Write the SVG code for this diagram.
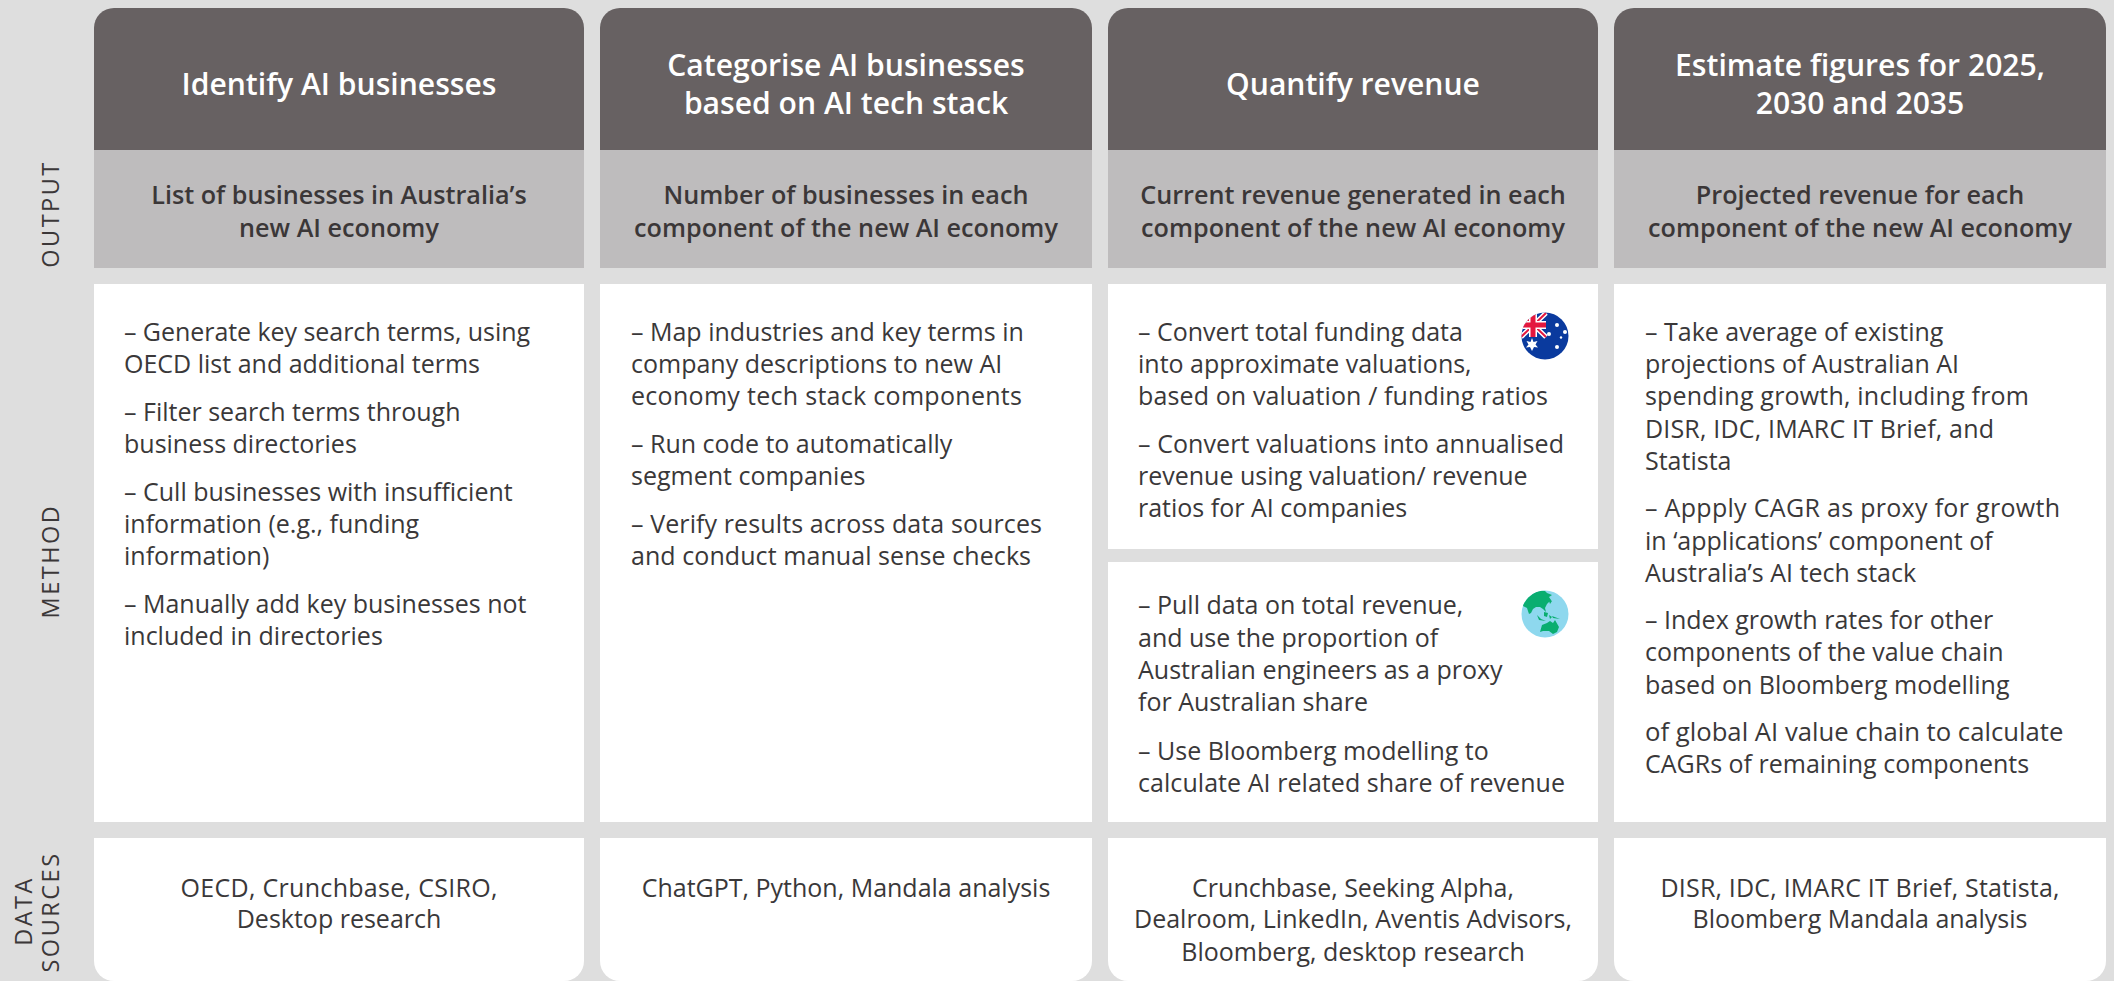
<svg xmlns="http://www.w3.org/2000/svg" width="2114" height="981" viewBox="0 0 2114 981">
<style>
text{font-family:"Open Sans","Noto Sans","Liberation Sans",sans-serif}
.h{fill:#fff;font-size:30.100px;font-weight:600;text-anchor:middle}
.s{fill:#3b3738;font-size:25.200px;font-weight:600;text-anchor:middle}
.m{fill:#3a3839;font-size:25px}
.d{fill:#3a3839;font-size:25px;text-anchor:middle}
.l{fill:#3b3738;font-size:23.500px;font-weight:500;letter-spacing:2.500px;text-anchor:middle}
.hb{fill:#676162}.sb{fill:#bebcbd}.wb{fill:#fff}
</style>
<defs>
<clipPath id="c1"><circle cx="1545" cy="336" r="23.500"/></clipPath>
<clipPath id="c2"><circle cx="1545" cy="614" r="23.500"/></clipPath>
</defs>
<rect width="2114" height="981" fill="#dedede"/>
<g id="labels">
<text class="l" transform="translate(59 214) rotate(-90)">OUTPUT</text>
<text class="l" transform="translate(59 561) rotate(-90)">METHOD</text>
<text class="l" transform="translate(32 911) rotate(-90)">DATA</text>
<text class="l" transform="translate(59 912) rotate(-90)">SOURCES</text>
</g>
<g id="col1">
<path class="hb" d="M94 150V28a20 20 0 0 1 20-20H564a20 20 0 0 1 20 20V150Z"/>
<text class="h" x="339" y="95">Identify AI businesses</text>
<rect class="sb" x="94" y="150" width="490" height="118"/>
<text class="s" x="339" y="204">List of businesses in Australia’s</text>
<text class="s" x="339" y="237">new AI economy</text>
<rect class="wb" x="94" y="284" width="490" height="538"/>
<text class="m" x="124" y="341" textLength="406">– Generate key search terms, using</text>
<text class="m" x="124" y="373">OECD list and additional terms</text>
<text class="m" x="124" y="421">– Filter search terms through</text>
<text class="m" x="124" y="453">business directories</text>
<text class="m" x="124" y="501">– Cull businesses with insufficient</text>
<text class="m" x="124" y="533">information (e.g., funding</text>
<text class="m" x="124" y="565">information)</text>
<text class="m" x="124" y="613">– Manually add key businesses not</text>
<text class="m" x="124" y="645">included in directories</text>
<path class="wb" d="M94 838H584V961a20 20 0 0 1-20 20H114a20 20 0 0 1-20-20Z"/>
<text class="d" x="339" y="897" textLength="317">OECD, Crunchbase, CSIRO,</text>
<text class="d" x="339" y="928">Desktop research</text>
</g>
<g id="col2">
<path class="hb" d="M600 150V28a20 20 0 0 1 20-20H1072a20 20 0 0 1 20 20V150Z"/>
<text class="h" x="846" y="76">Categorise AI businesses</text>
<text class="h" x="846" y="114">based on AI tech stack</text>
<rect class="sb" x="600" y="150" width="492" height="118"/>
<text class="s" x="846" y="204">Number of businesses in each</text>
<text class="s" x="846" y="237">component of the new AI economy</text>
<rect class="wb" x="600" y="284" width="492" height="538"/>
<text class="m" x="631" y="341">– Map industries and key terms in</text>
<text class="m" x="631" y="373">company descriptions to new AI</text>
<text class="m" x="631" y="405" textLength="391">economy tech stack components</text>
<text class="m" x="631" y="453">– Run code to automatically</text>
<text class="m" x="631" y="485">segment companies</text>
<text class="m" x="631" y="533" textLength="411">– Verify results across data sources</text>
<text class="m" x="631" y="565" textLength="400">and conduct manual sense checks</text>
<path class="wb" d="M600 838H1092V961a20 20 0 0 1-20 20H620a20 20 0 0 1-20-20Z"/>
<text class="d" x="846" y="897">ChatGPT, Python, Mandala analysis</text>
</g>
<g id="col3">
<path class="hb" d="M1108 150V28a20 20 0 0 1 20-20H1578a20 20 0 0 1 20 20V150Z"/>
<text class="h" x="1353" y="95">Quantify revenue</text>
<rect class="sb" x="1108" y="150" width="490" height="118"/>
<text class="s" x="1353" y="204">Current revenue generated in each</text>
<text class="s" x="1353" y="237">component of the new AI economy</text>
<rect class="wb" x="1108" y="284" width="490" height="265"/>
<text class="m" x="1138" y="341">– Convert total funding data</text>
<text class="m" x="1138" y="373">into approximate valuations,</text>
<text class="m" x="1138" y="405" textLength="410">based on valuation / funding ratios</text>
<text class="m" x="1138" y="453" textLength="426">– Convert valuations into annualised</text>
<text class="m" x="1138" y="485">revenue using valuation/ revenue</text>
<text class="m" x="1138" y="517">ratios for AI companies</text>
<g id="flag-au" clip-path="url(#c1)">
<rect x="1521" y="312" width="48" height="48" fill="#0a3a9e"/>
<path d="M1521 313L1546 337M1546 313L1521 337" stroke="#fff" stroke-width="5"/>
<path d="M1521 313L1546 337M1546 313L1521 337" stroke="#e4173e" stroke-width="2"/>
<path d="M1533 312V337M1521 325H1546" stroke="#fff" stroke-width="8"/>
<path d="M1533 312V337M1521 325H1546" stroke="#e4173e" stroke-width="5"/>
<polygon fill="#fff" points="1532,338 1533.500,342 1537.500,341 1535.500,344.500 1538,347.500 1534,347 1532,351 1530,347 1526,347.500 1528.500,344.500 1526.500,341 1530.500,342"/>
<circle cx="1557" cy="325" r="2" fill="#fff"/>
<circle cx="1549" cy="334" r="2" fill="#fff"/>
<circle cx="1565" cy="332" r="2" fill="#fff"/>
<circle cx="1561" cy="337.500" r="1.200" fill="#fff"/>
<circle cx="1557" cy="347" r="2" fill="#fff"/>
</g>
<rect class="wb" x="1108" y="562" width="490" height="260"/>
<text class="m" x="1138" y="614">– Pull data on total revenue,</text>
<text class="m" x="1138" y="647">and use the proportion of</text>
<text class="m" x="1138" y="679">Australian engineers as a proxy</text>
<text class="m" x="1138" y="711">for Australian share</text>
<text class="m" x="1138" y="760">– Use Bloomberg modelling to</text>
<text class="m" x="1138" y="792" textLength="427">calculate AI related share of revenue</text>
<g id="globe" clip-path="url(#c2)">
<rect x="1521" y="590" width="48" height="48" fill="#8ed8ee"/>
<path fill="#0aae70" d="M1521 606L1528 596L1540 590L1545 591L1547 593L1552 595L1549 597L1551 600L1547 604L1545 608L1546 612L1543 609L1540 607L1536 607L1533 609L1531 613L1529 614L1527 608L1523 606Z"/>
<path fill="#0aae70" d="M1540 632L1542 625L1547 623L1550 621L1553 623L1555 620L1559 627L1557 632L1553 634L1549 631L1543 631Z"/>
<path fill="#0aae70" d="M1537 615L1541 619L1546 621L1539 620ZM1544 612L1548 613L1547 617L1544 616ZM1549 615L1552 617L1550 619ZM1552 616L1560 619L1553 618ZM1548 598L1552 601L1550 604Z"/>
</g>
<path class="wb" d="M1108 838H1598V961a20 20 0 0 1-20 20H1128a20 20 0 0 1-20-20Z"/>
<text class="d" x="1353" y="897">Crunchbase, Seeking Alpha,</text>
<text class="d" x="1353" y="928">Dealroom, LinkedIn, Aventis Advisors,</text>
<text class="d" x="1353" y="961">Bloomberg, desktop research</text>
</g>
<g id="col4">
<path class="hb" d="M1614 150V28a20 20 0 0 1 20-20H2086a20 20 0 0 1 20 20V150Z"/>
<text class="h" x="1860" y="76">Estimate figures for 2025,</text>
<text class="h" x="1860" y="114">2030 and 2035</text>
<rect class="sb" x="1614" y="150" width="492" height="118"/>
<text class="s" x="1860" y="204">Projected revenue for each</text>
<text class="s" x="1860" y="237">component of the new AI economy</text>
<rect class="wb" x="1614" y="284" width="492" height="538"/>
<text class="m" x="1645" y="341">– Take average of existing</text>
<text class="m" x="1645" y="373">projections of Australian AI</text>
<text class="m" x="1645" y="405" textLength="384">spending growth, including from</text>
<text class="m" x="1645" y="438" textLength="349">DISR, IDC, IMARC IT Brief, and</text>
<text class="m" x="1645" y="470">Statista</text>
<text class="m" x="1645" y="517" textLength="415">– Appply CAGR as proxy for growth</text>
<text class="m" x="1645" y="550">in ‘applications’ component of</text>
<text class="m" x="1645" y="582">Australia’s AI tech stack</text>
<text class="m" x="1645" y="629">– Index growth rates for other</text>
<text class="m" x="1645" y="661">components of the value chain</text>
<text class="m" x="1645" y="694">based on Bloomberg modelling</text>
<text class="m" x="1645" y="741" style="font-size:25.700px">of global AI value chain to calculate</text>
<text class="m" x="1645" y="773">CAGRs of remaining components</text>
<path class="wb" d="M1614 838H2106V961a20 20 0 0 1-20 20H1634a20 20 0 0 1-20-20Z"/>
<text class="d" x="1860" y="897" textLength="399">DISR, IDC, IMARC IT Brief, Statista,</text>
<text class="d" x="1860" y="928">Bloomberg Mandala analysis</text>
</g>
</svg>
